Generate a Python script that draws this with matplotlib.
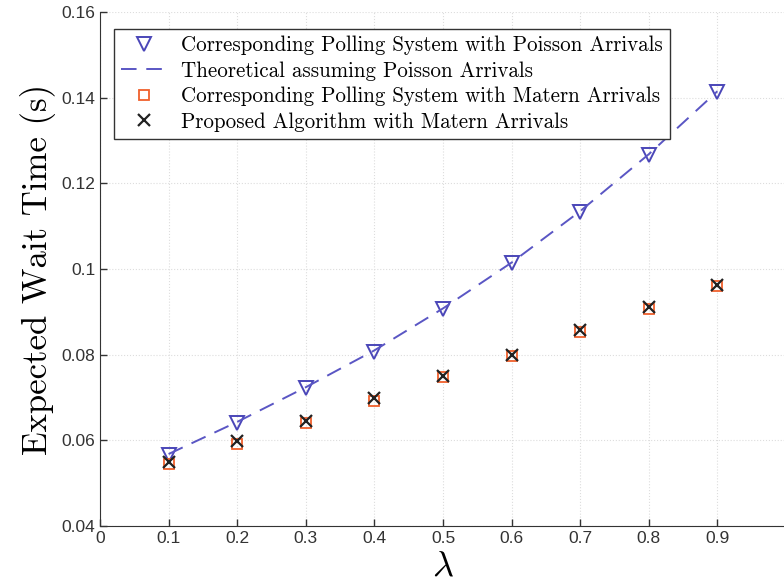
import matplotlib.pyplot as plt
from matplotlib.ticker import FuncFormatter

# values
lam = [0.1, 0.2, 0.3, 0.4, 0.5, 0.6, 0.7, 0.8, 0.9]
poisson_sim = [0.0565, 0.0641, 0.0722, 0.0807, 0.0906, 0.1013, 0.1133, 0.1266, 0.1413]
poisson_theory = [0.0568, 0.0643, 0.0724, 0.0810, 0.0908, 0.1015, 0.1135, 0.1268, 0.1415]
matern_sim = [0.0545, 0.0592, 0.0641, 0.0692, 0.0747, 0.0798, 0.0853, 0.0906, 0.0960]
proposed = [0.0549, 0.0598, 0.0646, 0.0698, 0.0750, 0.0800, 0.0857, 0.0911, 0.0963]

labels = ['Corresponding Polling System with Poisson Arrivals',
          'Theoretical assuming Poisson Arrivals',
          'Corresponding Polling System with Matern Arrivals',
          'Proposed Algorithm with Matern Arrivals']

plt.rcParams['mathtext.fontset'] = 'cm'
plt.rcParams['axes.unicode_minus'] = False
serif = 'cmr10'

fig = plt.figure(figsize=(7.84, 5.82), dpi=100)
ax = fig.add_axes([100 / 784, 56 / 582, 686 / 784, 514 / 582])

ax.plot(lam, poisson_sim, linestyle='none', marker='v', markersize=10,
        markerfacecolor='none', markeredgecolor='#4a46b8', markeredgewidth=1.4, label=labels[0])
ax.plot(lam, poisson_theory, linestyle=(0, (8, 5)), color='#5a56c4', linewidth=1.4, label=labels[1])
ax.plot(lam, matern_sim, linestyle='none', marker='s', markersize=7,
        markerfacecolor='none', markeredgecolor='#f0602c', markeredgewidth=1.3, label=labels[2])
ax.plot(lam, proposed, linestyle='none', marker='x', markersize=8,
        color='#222222', markeredgewidth=1.6, label=labels[3])

ax.set_xlim(0, 1)
ax.set_ylim(0.04, 0.16)
ax.set_xticks([0, 0.1, 0.2, 0.3, 0.4, 0.5, 0.6, 0.7, 0.8, 0.9, 1.0])
ax.set_yticks([0.04, 0.06, 0.08, 0.1, 0.12, 0.14, 0.16])
# the 1.0 label falls off the right edge of the picture, so leave it blank
ax.xaxis.set_major_formatter(FuncFormatter(lambda v, p: '' if v > 0.95 else '%g' % round(v, 3)))
ax.yaxis.set_major_formatter(FuncFormatter(lambda v, p: '%g' % round(v, 3)))
ax.tick_params(direction='in', length=5, width=1, labelsize=12.5, colors='#333333')
for t in ax.get_xticklabels() + ax.get_yticklabels():
    t.set_fontfamily('Liberation Sans')

ax.spines['top'].set_visible(False)
ax.spines['right'].set_visible(False)
ax.spines['left'].set_color('#333333')
ax.spines['bottom'].set_color('#333333')
ax.grid(True, linestyle=':', color='#dddddd', linewidth=0.8)

ax.set_xlabel(r'$\lambda$', fontsize=26, labelpad=2)
ax.set_ylabel('Expected Wait Time (s)', fontsize=25, fontfamily=serif, labelpad=4)

leg = ax.legend(loc='upper left', bbox_to_anchor=(0.02, 0.967), borderaxespad=0,
                prop={'family': serif, 'size': 15.1},
                frameon=True, fancybox=False, edgecolor='#333333', framealpha=1,
                handlelength=2.2, handletextpad=0.7, labelspacing=0.28, borderpad=0.33, numpoints=1)
leg.get_frame().set_linewidth(1.0)

fig.savefig('out.png', dpi=100)
